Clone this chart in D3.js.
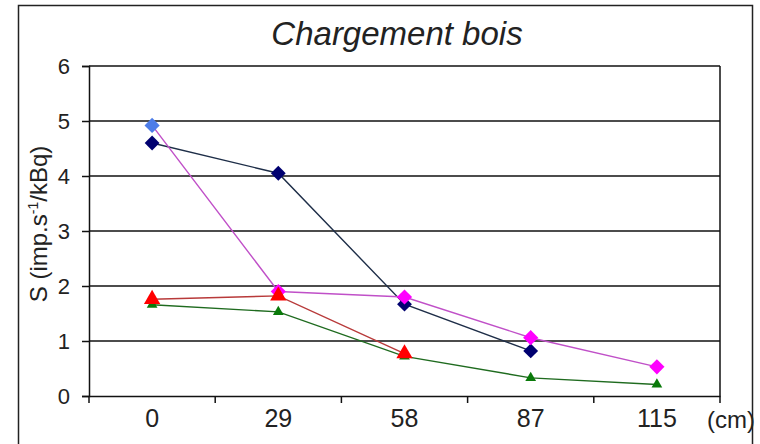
<!DOCTYPE html>
<html>
<head>
<meta charset="utf-8">
<script src="https://cdn.jsdelivr.net/npm/d3@7"></script>
<style>
  body { margin: 0; background: #fff; }
  text { font-family: "Liberation Sans", Arial, sans-serif; fill: #222; }
</style>
</head>
<body>
<svg id="chart" width="760" height="444"></svg>
<script>
const categories = ["0", "29", "58", "87", "115"];
const yTicks = [0, 1, 2, 3, 4, 5, 6];

const navyValues = [4.6, 4.05, 1.67, 0.82, null];
const magentaValues = [4.92, 1.9, 1.8, 1.06, 0.53];
const redValues = [1.76, 1.82, 0.77, null, null];
const greenValues = [1.66, 1.53, 0.72, 0.33, 0.21];

const margin = { top: 66, right: 40, bottom: 48, left: 89 };
const width = 760 - margin.left - margin.right;
const height = 444 - margin.top - margin.bottom;

const svg = d3.select("#chart");

// outer chart frame
svg.append("rect")
  .attr("x", 18.5).attr("y", 5.5)
  .attr("width", 734).attr("height", 450)
  .attr("fill", "none").attr("stroke", "#222").attr("stroke-width", 1.5);

svg.append("text")
  .attr("x", 397).attr("y", 45)
  .attr("text-anchor", "middle")
  .style("font-size", "33px").style("font-style", "italic")
  .text("Chargement bois");

const g = svg.append("g")
  .attr("transform", `translate(${margin.left}, ${margin.top})`);

const x = d3.scaleBand().domain(categories).range([0, width]).padding(0);
const y = d3.scaleLinear().domain([0, 6]).range([height, 0]);

// gridlines
g.selectAll(".grid")
  .data(yTicks.filter(d => d > 0))
  .enter().append("line")
  .attr("x1", 0).attr("x2", width)
  .attr("y1", d => y(d)).attr("y2", d => y(d))
  .attr("stroke", "#111").attr("stroke-width", 1.5);

// right border of plot
g.append("line")
  .attr("x1", width).attr("x2", width)
  .attr("y1", 0).attr("y2", height)
  .attr("stroke", "#111").attr("stroke-width", 1.5);

// y axis
const yAxis = g.append("g")
  .call(d3.axisLeft(y).tickValues(yTicks).tickFormat(d3.format("d")).tickSize(7).tickPadding(12));
yAxis.selectAll("text").style("font-size", "22px").attr("fill", "#222");
yAxis.selectAll("line, path").attr("stroke", "#111").attr("stroke-width", 1.5);

// x axis: labels at band centres, ticks on band boundaries
const xAxis = g.append("g")
  .attr("transform", `translate(0, ${height})`)
  .call(d3.axisBottom(x).tickSize(0).tickPadding(13));
xAxis.selectAll("text").style("font-size", "25px").attr("fill", "#222");
xAxis.select("path").attr("stroke", "#111").attr("stroke-width", 1.5);

const bounds = categories.map(c => x(c)).concat([x.range()[1]]);
g.selectAll(".xtick")
  .data(bounds)
  .enter().append("line")
  .attr("x1", d => d).attr("x2", d => d)
  .attr("y1", height).attr("y2", height + 7)
  .attr("stroke", "#111").attr("stroke-width", 1.5);

g.append("text")
  .attr("x", 618).attr("y", height + 32)
  .style("font-size", "24px")
  .text("(cm)");

// y label
svg.append("text")
  .attr("transform", "translate(47, 224) rotate(-90)")
  .attr("text-anchor", "middle")
  .style("font-size", "24px")
  .html('S (imp.s<tspan dy="-9" style="font-size:14px">-1</tspan><tspan dy="9">/kBq)</tspan>');

const series = [
  { values: navyValues, line: "#1e2e48", fill: "#000070", shape: "diamond", size: 110 },
  { values: magentaValues, line: "#c050c8", fill: "#ff00ff", shape: "diamond", size: 115, firstFill: "#4d7de8" },
  { values: greenValues, line: "#1f6b1f", fill: "#0a7a0a", shape: "triangle", size: 50 },
  { values: redValues, line: "#b83a3a", fill: "#ff0000", shape: "triangle", size: 115 }
];

const cx = c => x(c) + x.bandwidth() / 2;

series.forEach(s => {
  const pts = categories.map((c, i) => ({ c, v: s.values[i], i })).filter(p => p.v != null);

  g.append("path")
    .datum(pts)
    .attr("fill", "none")
    .attr("stroke", s.line)
    .attr("stroke-width", 1.4)
    .attr("d", d3.line().x(p => cx(p.c)).y(p => y(p.v)));

  const sym = s.shape === "diamond"
    ? d3.symbol().type(d3.symbolSquare).size(s.size)
    : d3.symbol().type(d3.symbolTriangle).size(s.size);

  g.selectAll(null)
    .data(pts)
    .enter().append("path")
    .attr("d", sym)
    .attr("transform", p => `translate(${cx(p.c)}, ${y(p.v)})` + (s.shape === "diamond" ? " rotate(45)" : ""))
    .attr("fill", p => (p.i === 0 && s.firstFill) ? s.firstFill : s.fill);
});
</script>
</body>
</html>
